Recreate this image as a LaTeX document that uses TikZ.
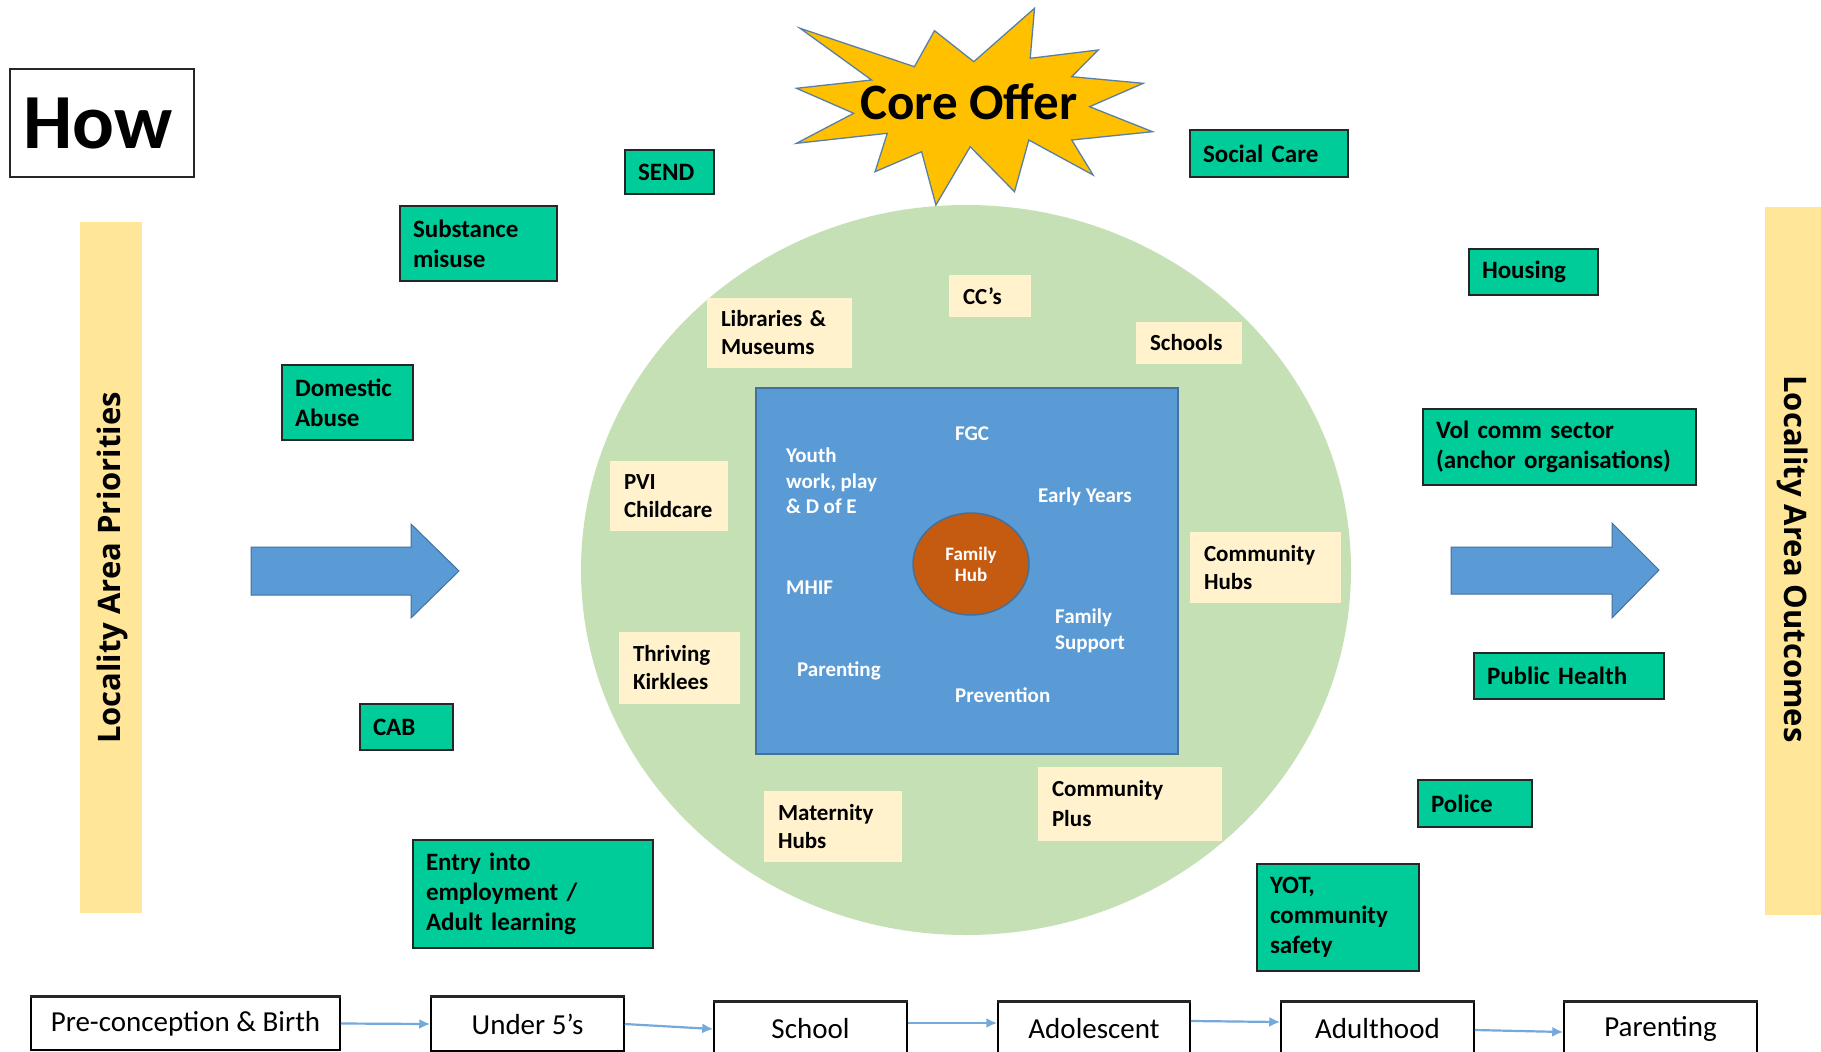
\documentclass[tikz,border=0pt]{standalone}
\usepackage{fontspec}
\setmainfont{Carlito}
\newfontfamily\barfont{Open Sans}
\usetikzlibrary{arrows.meta,shapes.geometric}
\definecolor{gboxc}{HTML}{00CC99}
\definecolor{cream}{HTML}{FFF2CC}
\definecolor{circgreen}{HTML}{C5E0B4}
\definecolor{bluec}{HTML}{5B9BD5}
\definecolor{blueline}{HTML}{41719C}
\definecolor{hubc}{HTML}{C55A11}
\definecolor{baryellow}{HTML}{FFE699}
\definecolor{starc}{HTML}{FFC000}
\definecolor{starline}{HTML}{5A7FA6}
\tikzset{
  gbox/.style={draw=black!85, line width=1.6pt, fill=gboxc, inner xsep=13pt, inner ysep=0pt, align=left, font=\bfseries\fontsize{25}{30}\selectfont},
  cbox/.style={fill=cream, inner xsep=14pt, inner ysep=0pt, align=left, font=\bfseries\fontsize{23}{28}\selectfont},
  wtext/.style={text=white, align=left, inner sep=0pt, anchor=west, font=\bfseries\fontsize{21}{25.5}\selectfont},
  lbox/.style={draw=black, line width=1.5pt, fill=white, inner sep=0pt, font=\fontsize{29}{34}\selectfont},
  lifearrow/.style={-{Latex[length=11pt,width=10pt]}, line width=2.2pt, draw=bluec!85},
  bigarrow/.style={fill=bluec, draw=blueline, line width=1pt},
  barstyle/.style={fill=baryellow, inner sep=0pt},
  bartext/.style={font=\barfont\bfseries\fontsize{31}{36}\selectfont}
}
\begin{document}
\begin{tikzpicture}[x=1pt,y=-1pt]
\useasboundingbox (0,0) rectangle (1821,1052);
\fill[white] (0,0) rectangle (1821,1052);

% How
\node[draw=black!85, line width=2pt, minimum width=184pt, minimum height=108pt, inner sep=0pt] (howbox) at (102,123) {};
\node[font=\bfseries\fontsize{78}{90}\selectfont, inner sep=0pt] (how) at (98,123) {How};

% side bars
\node[barstyle, minimum width=62pt, minimum height=691pt] (lbar) at (111,567.5) {};
\node[bartext, rotate=90] (ltext) at (112,568) {Locality Area Priorities};
\node[barstyle, minimum width=60pt, minimum height=708pt] (rbar) at (1795,561) {};
\node[bartext, rotate=-90] (rtext) at (1793,559) {Locality Area Outcomes};

% big arrows
\draw[bigarrow] (251,547) -- (411,547) -- (411,524) -- (459,571) -- (411,618) -- (411,595) -- (251,595) -- cycle;
\draw[bigarrow] (1451,547) -- (1612,547) -- (1612,523) -- (1659,570) -- (1612,618) -- (1612,594) -- (1451,594) -- cycle;

% green circle and blue square
\fill[circgreen] (966,570) ellipse [x radius=385pt, y radius=365pt];
\node[draw=blueline, fill=bluec, line width=1.5pt, minimum width=422pt, minimum height=366pt, inner sep=0pt] (square) at (967,571) {};
\node[ellipse, draw=blueline, fill=hubc, line width=1.5pt, minimum width=116pt, minimum height=102pt, inner sep=0pt, text=white, align=center, font=\bfseries\fontsize{19}{21}\selectfont] (hub) at (971,564) {Family\\Hub};

% white texts inside square
\node[wtext, anchor=center] (fgc) at (972,434) {FGC};
\node[wtext] (youth) at (786,481) {Youth\\work, play\\\& D of E};
\node[wtext] (early) at (1038,497) {Early Years};
\node[wtext] (mhif) at (786,588) {MHIF};
\node[wtext] (fsupport) at (1055,631) {Family\\Support};
\node[wtext] (parenting) at (797,671) {Parenting};
\node[wtext] (prevention) at (955,695) {Prevention};

% cream boxes
\node[cbox, text width=117pt, minimum height=70pt] (libraries) at (779.5,333) {Libraries \&\\Museums};
\node[cbox, text width=54pt, minimum height=42pt] (ccs) at (990,296) {CC’s};
\node[cbox, text width=78pt, minimum height=42pt] (schools) at (1189,343) {Schools};
\node[cbox, text width=90pt, minimum height=70pt] (pvi) at (669,496) {PVI\\Childcare};
\node[cbox, text width=123pt, minimum height=71pt] (chubs) at (1265.5,567.5) {Community\\Hubs};
\node[cbox, text width=93pt, minimum height=72pt] (thriving) at (679.5,668) {Thriving\\Kirklees};
\node[cbox, text width=110pt, minimum height=71pt] (maternity) at (833,826.5) {Maternity\\Hubs};
\node[cbox, text width=156pt, minimum height=74pt, font=\bfseries\fontsize{23}{30}\selectfont] (cplus) at (1130,804) {Community\\Plus};

% star
\draw[fill=starc, draw=starline, line width=1.3pt]
 (1034.5,8.3) -- (1030.2,58.3) -- (1098.1,50) -- (1071.7,76.7) -- (1143.2,83.3) -- (1089.6,106.7)
 -- (1152.5,131.7) -- (1071.7,140) -- (1093.1,175) -- (1028.8,140) -- (1014.5,191.7) -- (970.2,146.7)
 -- (935.9,205) -- (921.6,151.7) -- (875.1,171.7) -- (887.3,133.3) -- (796.5,143.3) -- (853.7,113.3)
 -- (796.5,88.3) -- (871.6,80) -- (800.1,28.3) -- (914.4,66.7) -- (934.5,30.7) -- (973.8,61.7) -- cycle;
\node[font=\bfseries\fontsize{51}{60}\selectfont, inner sep=0pt] (core) at (969,102) {Core Offer};

% green boxes
\node[gbox, text width=63pt, minimum height=44pt] (send) at (669.5,172) {SEND};
\node[gbox, text width=131pt, minimum height=75pt] (substance) at (478.5,243.5) {Substance\\misuse};
\node[gbox, text width=132pt, minimum height=47pt] (social) at (1269,153.5) {Social Care};
\node[gbox, text width=103pt, minimum height=46pt] (housing) at (1533.5,272) {Housing};
\node[gbox, text width=105pt, minimum height=75pt] (domestic) at (347.5,402.5) {Domestic\\Abuse};
\node[gbox, text width=247pt, minimum height=76pt] (vol) at (1559.5,447) {Vol comm sector\\(anchor organisations)};
\node[gbox, text width=67pt, minimum height=46pt] (cab) at (406.5,727) {CAB};
\node[gbox, text width=164pt, minimum height=46pt] (publichealth) at (1569,676) {Public Health};
\node[gbox, text width=88pt, minimum height=47pt] (police) at (1475,803.5) {Police};
\node[gbox, text width=214pt, minimum height=108pt] (entry) at (533,894) {Entry into\\employment /\\Adult learning};
\node[gbox, text width=136pt, minimum height=107pt] (yot) at (1338,917.5) {YOT,\\community\\safety};

% life course boxes
\node[lbox, minimum width=309pt, minimum height=53pt] (pre) at (185.5,1023.5) {Pre-conception \& Birth};
\node[lbox, minimum width=193pt, minimum height=54pt] (under5) at (527.5,1024) {Under 5’s};
\node[lbox, minimum width=193pt, minimum height=54pt] (school) at (810.5,1029) {School};
\node[lbox, minimum width=192pt, minimum height=54pt] (adol) at (1094,1029) {Adolescent};
\node[lbox, minimum width=193pt, minimum height=54pt] (adult) at (1377.5,1029) {Adulthood};
\node[lbox, minimum width=193pt, minimum height=54pt] (parent) at (1660.5,1029) {Parenting};
\foreach \b in {pre,under5,school,adol,adult,parent}
  \draw[line width=3pt, black!85] (\b.north west) -- (\b.north east);

\draw[lifearrow] (pre.east) -- (under5.west);
\draw[lifearrow] (under5.east) -- (school.west);
\draw[lifearrow] ([yshift=6pt]school.east) -- ([yshift=6pt]adol.west);
\draw[lifearrow] ([yshift=8pt]adol.east) -- ([yshift=7pt]adult.west);
\draw[lifearrow] ([yshift=-1pt]adult.east) -- ([yshift=-3pt]parent.west);
\end{tikzpicture}
\end{document}
